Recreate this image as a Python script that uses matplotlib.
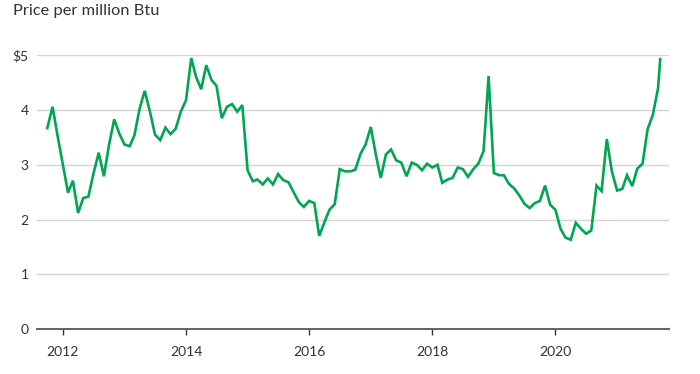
import datetime as dt
import matplotlib
matplotlib.use("Agg")
import matplotlib.pyplot as plt
import matplotlib.dates as mdates

# monthly prices, Oct 2011 - Sep 2021, plus one mid-September reading
prices = [
    3.67, 4.06, 3.53,                                                        # 2011 Oct-Dec
    3.01, 2.49, 2.71, 2.12, 2.39, 2.42, 2.84, 3.22, 2.79, 3.36, 3.83, 3.57,  # 2012
    3.37, 3.34, 3.54, 4.03, 4.35, 3.97, 3.55, 3.45, 3.68, 3.56, 3.66, 3.97,  # 2013
    4.18, 4.95, 4.61, 4.38, 4.82, 4.55, 4.44, 3.85, 4.06, 4.11, 3.97, 4.09,  # 2014
    2.90, 2.70, 2.73, 2.64, 2.75, 2.64, 2.83, 2.72, 2.68, 2.50, 2.32, 2.23,  # 2015
    2.34, 2.30, 1.70, 1.95, 2.18, 2.28, 2.92, 2.88, 2.88, 2.91, 3.20, 3.37,  # 2016
    3.69, 3.17, 2.76, 3.19, 3.28, 3.08, 3.04, 2.79, 3.04, 3.00, 2.90, 3.02,  # 2017
    2.95, 3.00, 2.67, 2.73, 2.76, 2.95, 2.92, 2.78, 2.92, 3.02, 3.25, 4.62,  # 2018
    2.85, 2.81, 2.81, 2.65, 2.57, 2.44, 2.29, 2.21, 2.30, 2.34, 2.62, 2.27,  # 2019
    2.18, 1.83, 1.67, 1.63, 1.94, 1.83, 1.74, 1.80, 2.62, 2.52, 3.47, 2.88,  # 2020
    2.53, 2.56, 2.81, 2.61, 2.93, 3.02, 3.65, 3.91, 4.40,                    # 2021 Jan-Sep
    4.93,                                                                    # latest
]
dates = []
y, m = 2011, 10
for p in prices[:-1]:
    dates.append(dt.date(y, m, 1))
    m += 1
    if m > 12:
        m = 1
        y += 1
dates.append(dt.date(2021, 9, 14))

yticks = [0, 1, 2, 3, 4, 5]
ylabels = ["0", "1", "2", "3", "4", "$5"]
xyears = [2012, 2014, 2016, 2018, 2020]

plt.rcParams['font.family'] = ['Lato', 'DejaVu Sans']
text_color = "#333333"

fig = plt.figure(figsize=(7, 3.74), dpi=100)
ax = fig.add_axes([37/700, 45/374, 632/700, 273.7/374])

ax.plot(dates, prices, color="#00a651", linewidth=1.9, clip_on=False,
        solid_joinstyle="miter", zorder=3)

ax.set_ylim(0, 5)
ax.set_xlim(dt.date(2011, 8, 1), dt.date(2021, 11, 5))
ax.set_yticks(yticks)
ax.set_yticklabels(ylabels)
ax.set_xticks([dt.date(yr, 1, 1) for yr in xyears])
ax.xaxis.set_major_formatter(mdates.DateFormatter("%Y"))

ax.grid(axis="y", color="#d4d4d4", linewidth=1.0)
ax.set_axisbelow(True)
for s in ["top", "right", "left"]:
    ax.spines[s].set_visible(False)
ax.spines["bottom"].set_color("#666666")
ax.spines["bottom"].set_linewidth(1.5)
ax.spines["bottom"].set_zorder(4)

ax.tick_params(axis="y", length=0, pad=6, labelsize=10, labelcolor=text_color)
ax.tick_params(axis="x", length=4, width=1, color="#333333", pad=8,
               labelsize=10, labelcolor=text_color)

fig.text(13/700, 1 - 15.5/374, "Price per million Btu", fontsize=11.8,
         color=text_color, va="baseline", ha="left")

fig.savefig("out.png", dpi=100)
